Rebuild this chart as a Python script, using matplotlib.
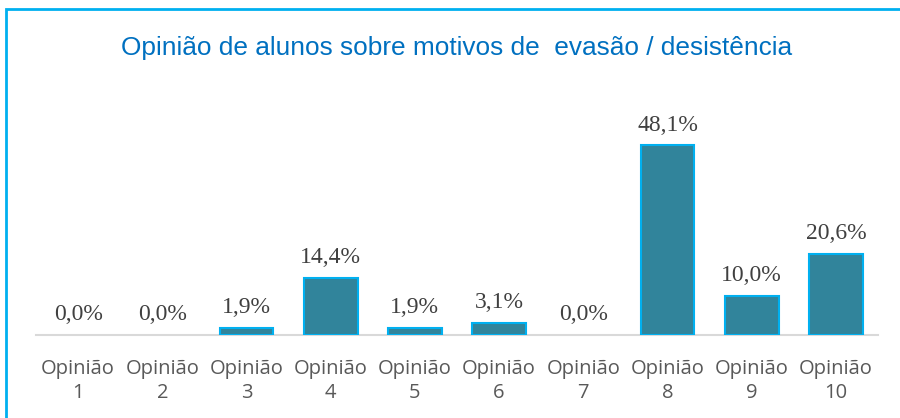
import matplotlib
matplotlib.use("Agg")
import matplotlib.pyplot as plt
from matplotlib.patches import Rectangle

categories = ["Opinião\n1", "Opinião\n2", "Opinião\n3", "Opinião\n4", "Opinião\n5",
              "Opinião\n6", "Opinião\n7", "Opinião\n8", "Opinião\n9", "Opinião\n10"]
values = [0.0, 0.0, 1.9, 14.4, 1.9, 3.1, 0.0, 48.1, 10.0, 20.6]
labels = ["0,0%", "0,0%", "1,9%", "14,4%", "1,9%", "3,1%", "0,0%", "48,1%", "10,0%", "20,6%"]
title = "Opinião de alunos sobre motivos de  evasão / desistência"

fig = plt.figure(figsize=(9, 4.18), dpi=100)
fig.patch.set_facecolor("white")

# outer border (left and top visible)
fig.patches.append(Rectangle((6/900, -0.1), 1.2, 1 - 9/418 + 0.1, transform=fig.transFigure,
                             fill=False, edgecolor="#00B0F0", linewidth=2, zorder=0))

ax = fig.add_axes([36/900, 1 - 335/418, (878 - 36)/900, (335 - 118)/418])
x = list(range(len(values)))
lws = [1.5 if v > 0 else 0 for v in values]
ax.bar(x, values, width=0.64, color="#31849B", edgecolor="#00B0F0", linewidth=lws, zorder=3)
ax.set_xlim(-0.5, len(values) - 0.5)
ax.set_ylim(0, 55)

for xi, v, lab in zip(x, values, labels):
    ax.annotate(lab, (xi, v), xytext=(0, 7), textcoords="offset points",
                ha="center", va="bottom", fontsize=17, color="#404040",
                family=["Liberation Serif", "DejaVu Serif"])

ax.set_xticks(x)
ax.set_xticklabels(categories, fontsize=14.5, color="#595959", family=["Open Sans", "DejaVu Sans"],
                   linespacing=1.3)
ax.tick_params(axis="x", length=0, pad=17)
ax.set_yticks([])
for s in ["top", "right", "left"]:
    ax.spines[s].set_visible(False)
ax.spines["bottom"].set_color("#D9D9D9")
ax.spines["bottom"].set_linewidth(1.5)
ax.set_facecolor("none")

fig.text(457/900, 1 - 48/418, title, ha="center", va="center", fontsize=18.9,
         color="#0070C0", family=["Liberation Sans", "DejaVu Sans"])

fig.savefig("out.png", dpi=100, facecolor="white")
